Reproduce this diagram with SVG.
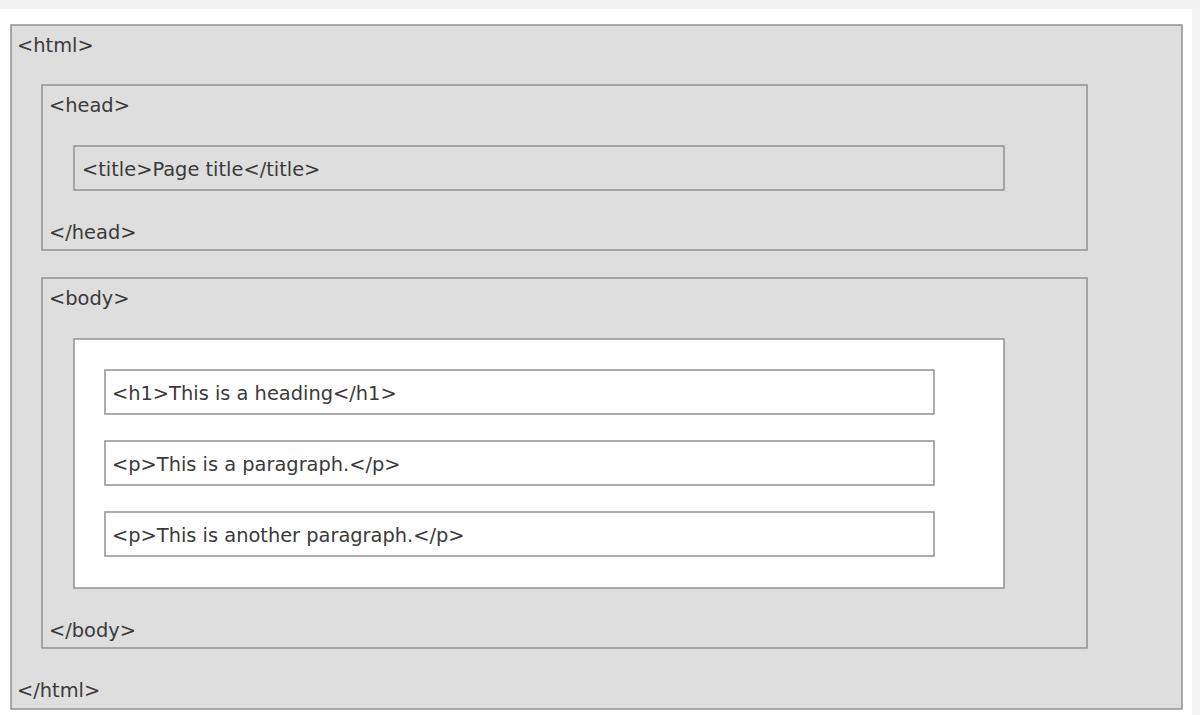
<svg xmlns="http://www.w3.org/2000/svg" width="1200" height="715" viewBox="0 0 1200 715">
<style>
.box{fill:#dedede;stroke:#919191;stroke-width:1.5}
.wbox{fill:#ffffff;stroke:#919191;stroke-width:1.5}
.t{font-family:"DejaVu Sans","Noto Sans",sans-serif;font-size:19.4px;fill:#3a3a3a}
</style>
<rect x="0" y="0" width="1200" height="715" fill="#ffffff"/>
<rect x="0" y="0" width="1200" height="9" fill="#f2f2f2"/>
<rect x="1192" y="9" width="8" height="706" fill="#f4f4f4"/>
<g id="html">
<rect class="box" x="11" y="25" width="1171" height="684"/>
<text class="t" x="17" y="52">&lt;html&gt;</text>
<text class="t" x="17" y="697">&lt;/html&gt;</text>
</g>
<g id="head">
<rect class="box" x="42" y="85" width="1045" height="165"/>
<text class="t" x="49" y="112">&lt;head&gt;</text>
<text class="t" x="49" y="239">&lt;/head&gt;</text>
</g>
<g id="title">
<rect class="box" x="74" y="146" width="930" height="44"/>
<text class="t" x="82" y="176">&lt;title&gt;Page title&lt;/title&gt;</text>
</g>
<g id="body">
<rect class="box" x="42" y="278" width="1045" height="370"/>
<text class="t" x="49" y="305">&lt;body&gt;</text>
<text class="t" x="49" y="637">&lt;/body&gt;</text>
</g>
<g id="content">
<rect class="wbox" x="74" y="339" width="930" height="249"/>
</g>
<g id="h1">
<rect class="wbox" x="105" y="370" width="829" height="44"/>
<text class="t" x="112" y="400">&lt;h1&gt;This is a heading&lt;/h1&gt;</text>
</g>
<g id="p1">
<rect class="wbox" x="105" y="441" width="829" height="44"/>
<text class="t" x="112" y="471">&lt;p&gt;This is a paragraph.&lt;/p&gt;</text>
</g>
<g id="p2">
<rect class="wbox" x="105" y="512" width="829" height="44"/>
<text class="t" x="112" y="542">&lt;p&gt;This is another paragraph.&lt;/p&gt;</text>
</g>
<g id="connectors"></g>
</svg>
